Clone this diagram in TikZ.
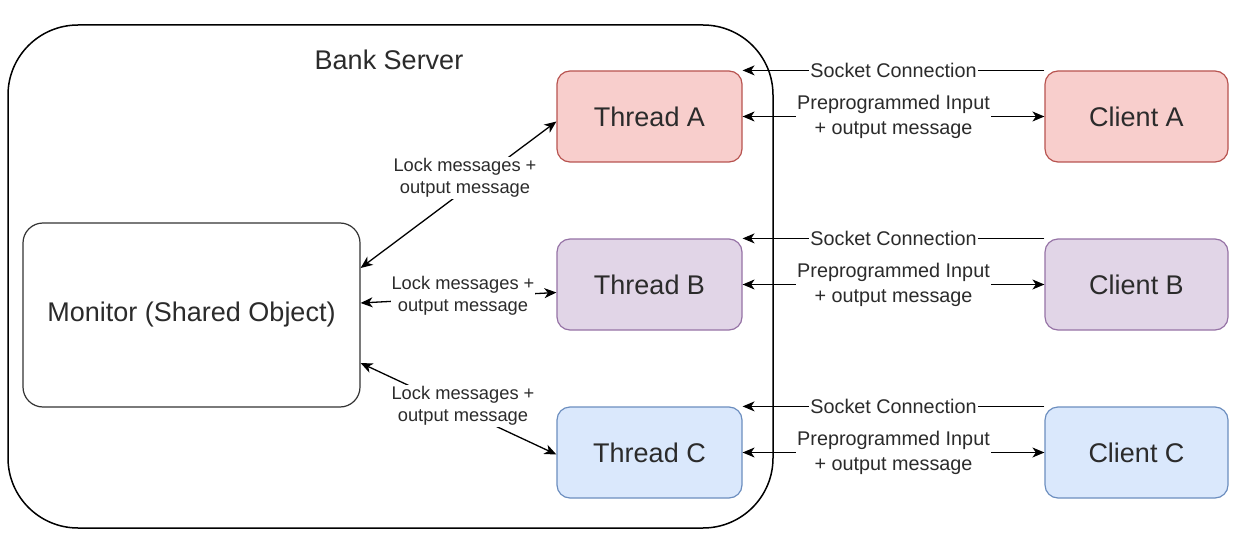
\documentclass[tikz,border=0pt]{standalone}
\usepackage{fontspec}
\setmainfont{Liberation Sans}
\usetikzlibrary{arrows.meta}
\definecolor{redfill}{HTML}{F8CECC}\definecolor{redline}{HTML}{B85450}
\definecolor{purfill}{HTML}{E1D5E7}\definecolor{purline}{HTML}{9673A6}
\definecolor{bluefill}{HTML}{DAE8FC}\definecolor{blueline}{HTML}{6C8EBF}
\definecolor{txt}{HTML}{2B2B2B}
\tikzset{
  box/.style={draw, line width=1.2pt, rounded corners=13pt, minimum width=185pt, minimum height=91pt, inner sep=0pt, text=txt, font=\fontsize{27}{30}\selectfont},
  redbox/.style={box, fill=redfill, draw=redline},
  purbox/.style={box, fill=purfill, draw=purline},
  bluebox/.style={box, fill=bluefill, draw=blueline},
  conn/.style={line width=1.3pt, -{Stealth[length=12pt,width=10pt,inset=3.5pt]}},
  dconn/.style={line width=1.3pt, {Stealth[length=12pt,width=10pt,inset=3.5pt]}-{Stealth[length=12pt,width=10pt,inset=3.5pt]}},
  locklbl/.style={fill=white, inner sep=1pt, align=center, text=txt, font=\fontsize{18.3}{22}\selectfont},
  sockfnt/.style={fill=white, inner sep=1pt, align=center, text=txt, font=\fontsize{19.8}{25}\selectfont},
}
\begin{document}
\begin{tikzpicture}[x=1pt,y=-1pt]
\useasboundingbox (0,0) rectangle (1241,548);
\fill[white] (0,0) rectangle (1241,548);
% container
\node[draw, line width=1.5pt, rounded corners=70pt, minimum width=765pt, minimum height=503pt] (bank) at (390.5,276.5) {};
\node[text=txt, font=\fontsize{27}{30}\selectfont] (banklbl) at (389,60) {Bank Server};
% monitor
\node[box, fill=white, draw=black!80, rounded corners=20pt, minimum width=337pt, minimum height=184pt] (mon) at (191.5,315) {Monitor (Shared Object)};
% threads
\node[redbox] (tA) at (649.5,116.5) {Thread A};
\node[purbox] (tB) at (649.5,284.5) {Thread B};
\node[bluebox] (tC) at (649.5,452.5) {Thread C};
% clients
\node[redbox, minimum width=183pt] (cA) at (1136.5,116.5) {Client A};
\node[purbox, minimum width=183pt] (cB) at (1136.5,284.5) {Client B};
\node[bluebox, minimum width=183pt] (cC) at (1136.5,452.5) {Client C};
% monitor connection points
\coordinate (m1) at ([yshift=47pt]mon.east);
\coordinate (m2) at ([yshift=12pt]mon.east);
\coordinate (m3) at ([yshift=-48pt]mon.east);
% lock arrows
\draw[dconn] (m1) -- ([yshift=-5pt]tA.west);
\node[locklbl] (lA) at (465,178) {Lock messages +\\output message};
\draw[dconn] (m2) -- ([yshift=-8pt]tB.west);
\node[locklbl] (lB) at (463,296) {Lock messages +\\output message};
\draw[dconn] (m3) -- ([yshift=-2pt]tC.west);
\node[locklbl] (lC) at (463,406) {Lock messages +\\output message};
% socket + preprogrammed
\foreach \t/\c in {tA/cA, tB/cB, tC/cC}{
  \draw[conn] (\c.north west) -- node[sockfnt]{Socket Connection} (\t.north east);
  \draw[dconn] (\t.east) -- node[sockfnt]{Preprogrammed Input\\+ output message} (\c.west);
}
\end{tikzpicture}
\end{document}
